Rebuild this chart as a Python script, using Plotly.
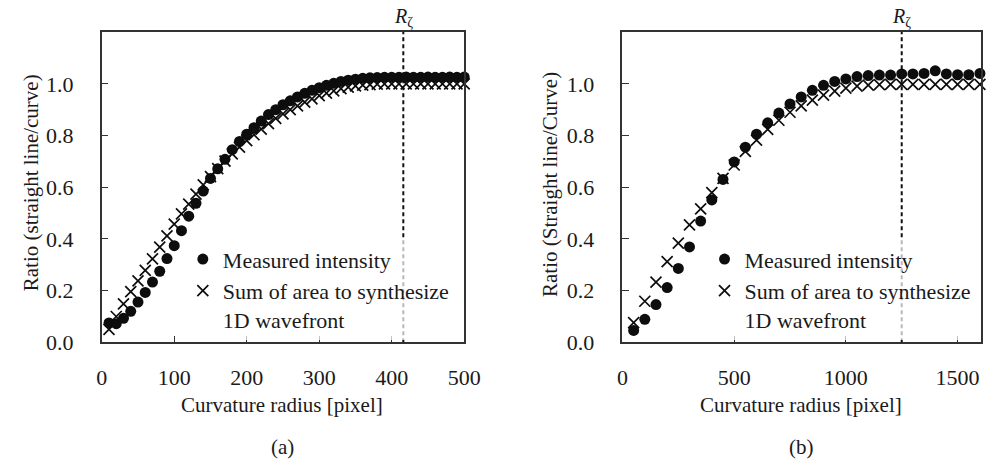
import plotly.graph_objects as go

# ---------------- data ----------------
radius_a = [10, 20, 30, 40, 50, 60, 70, 80, 90, 100,
            110, 120, 130, 140, 150, 160, 170, 180, 190, 200,
            210, 220, 230, 240, 250, 260, 270, 280, 290, 300,
            310, 320, 330, 340, 350, 360, 370, 380, 390, 400,
            410, 420, 430, 440, 450, 460, 470, 480, 490, 500]
measured_a = [0.075, 0.072, 0.093, 0.120, 0.156, 0.193, 0.233, 0.275, 0.324, 0.374,
              0.432, 0.488, 0.538, 0.585, 0.634, 0.671, 0.708, 0.745, 0.777, 0.805,
              0.830, 0.856, 0.881, 0.900, 0.919, 0.934, 0.949, 0.963, 0.975, 0.985,
              0.994, 1.002, 1.009, 1.014, 1.018, 1.021, 1.023, 1.024, 1.025, 1.025,
              1.025, 1.026, 1.025, 1.025, 1.026, 1.025, 1.025, 1.026, 1.025, 1.026]
synth_a = [0.050, 0.100, 0.149, 0.196, 0.238, 0.278, 0.323, 0.368, 0.412, 0.457,
           0.497, 0.535, 0.573, 0.609, 0.641, 0.672, 0.701, 0.729, 0.755, 0.780,
           0.803, 0.825, 0.846, 0.866, 0.884, 0.900, 0.915, 0.929, 0.942, 0.954,
           0.964, 0.973, 0.981, 0.987, 0.992, 0.995, 0.997, 0.999, 1.000, 1.000,
           1.000, 1.000, 1.000, 1.000, 1.000, 1.000, 1.000, 1.000, 1.000, 1.000]

radius_b = [50, 100, 150, 200, 250, 300, 350, 400, 450, 500,
            550, 600, 650, 700, 750, 800, 850, 900, 950, 1000,
            1050, 1100, 1150, 1200, 1250, 1300, 1350, 1400, 1450, 1500,
            1550, 1600]
measured_b = [0.046, 0.089, 0.146, 0.212, 0.286, 0.369, 0.469, 0.551, 0.630, 0.698,
              0.755, 0.805, 0.849, 0.887, 0.922, 0.949, 0.975, 0.994, 1.009, 1.019,
              1.028, 1.032, 1.034, 1.034, 1.038, 1.038, 1.040, 1.050, 1.038, 1.035,
              1.035, 1.040]
synth_b = [0.076, 0.159, 0.233, 0.312, 0.384, 0.454, 0.516, 0.579, 0.634, 0.686,
           0.739, 0.782, 0.824, 0.859, 0.890, 0.915, 0.937, 0.956, 0.972, 0.983,
           0.991, 0.995, 0.997, 0.998, 0.998, 0.998, 0.998, 0.998, 0.998, 0.998,
           0.998, 0.998]

rzeta_a = 416
rzeta_b = 1250

xticks_a = [0, 100, 200, 300, 400, 500]
xticks_b = [0, 500, 1000, 1500]
yticks = [0.0, 0.2, 0.4, 0.6, 0.8, 1.0]
ytick_text = ["0.0", "0.2", "0.4", "0.6", "0.8", "1.0"]

name_measured = "Measured intensity"
name_synth = "Sum of area to synthesize<br>1D wavefront"
xtitle = "Curvature radius [pixel]"
ytitle_a = "Ratio (straight line/curve)"
ytitle_b = "Ratio (Straight line/Curve)"

# ---------------- styling ----------------
W, H = 999, 474
FONT = "Liberation Serif, Times New Roman, serif"
TXT = "#1a1a1a"
AX = "#333333"
DOT = "#0d0d0d"


def px_x(p):
    return p / W


def px_y(p):
    return 1 - p / H


fig = go.Figure()

for (xs, ym, ys, xa, ya, leg) in [
    (radius_a, measured_a, synth_a, "x", "y", "legend"),
    (radius_b, measured_b, synth_b, "x2", "y2", "legend2"),
]:
    fig.add_trace(go.Scatter(
        x=xs, y=ys, mode="markers", name=name_synth, xaxis=xa, yaxis=ya,
        legend=leg, legendrank=2, cliponaxis=False,
        marker=dict(symbol="x-thin", size=11, line=dict(width=1.7, color=DOT), color=DOT)))
    fig.add_trace(go.Scatter(
        x=xs, y=ym, mode="markers", name=name_measured, xaxis=xa, yaxis=ya,
        legend=leg, legendrank=1, cliponaxis=False,
        marker=dict(symbol="circle", size=11, color=DOT, line=dict(width=0))))

axis_common = dict(showline=True, mirror=True, linecolor=AX, linewidth=1.5,
                   ticks="inside", ticklen=7, tickwidth=1.3, tickcolor=AX,
                   showgrid=False, zeroline=False,
                   tickfont=dict(family=FONT, size=22, color=TXT))

ydom = [px_y(352), px_y(33)]
fig.update_layout(
    width=W, height=H, margin=dict(l=0, r=0, t=0, b=0),
    paper_bgcolor="white", plot_bgcolor="white",
    showlegend=True,
    xaxis=dict(domain=[px_x(98), px_x(469)], range=[0, 500], tickvals=xticks_a,
               anchor="y", ticklabelstandoff=15, **axis_common),
    yaxis=dict(domain=ydom, range=[0, 1.2], tickvals=yticks, ticktext=ytick_text,
               anchor="x", ticklabelstandoff=22, **axis_common),
    xaxis2=dict(domain=[px_x(631), px_x(998)], range=[0, 1605], tickvals=xticks_b,
                anchor="y2", ticklabelstandoff=15, **axis_common),
    yaxis2=dict(domain=ydom, range=[0, 1.2], tickvals=yticks, ticktext=ytick_text,
                anchor="x2", ticklabelstandoff=22, **axis_common),
    legend=dict(x=px_x(181), y=px_y(245), xanchor="left", yanchor="top",
                bgcolor="rgba(255,255,255,0.7)", valign="top",
                font=dict(family=FONT, size=22, color=TXT), tracegroupgap=0),
    legend2=dict(x=px_x(715), y=px_y(245), xanchor="left", yanchor="top",
                 bgcolor="rgba(255,255,255,0.7)", valign="top",
                 font=dict(family=FONT, size=22, color=TXT), tracegroupgap=0),
)

# vertical dashed R_zeta lines
for rz, xr, yr in [(rzeta_a, "x", "y domain"), (rzeta_b, "x2", "y2 domain")]:
    fig.add_shape(type="line", x0=rz, x1=rz, y0=0, y1=1, xref=xr, yref=yr,
                  line=dict(color="#111111", width=2, dash="4px,3px"), layer="above")
    fig.add_annotation(x=rz, xref=xr, y=px_y(18), yref="paper",
                       text="<i>R</i><sub>ζ</sub>", showarrow=False,
                       xanchor="center", yanchor="middle",
                       font=dict(family=FONT, size=20, color=TXT))

# axis titles and panel labels
for cx, lab in [(283, "(a)"), (814, "(b)")]:
    fig.add_annotation(x=px_x(cx), y=px_y(416), xref="paper", yref="paper",
                       text=xtitle, showarrow=False, xanchor="center", yanchor="middle",
                       font=dict(family=FONT, size=21, color=TXT))
    fig.add_annotation(x=px_x(cx), y=px_y(460), xref="paper", yref="paper",
                       text=lab, showarrow=False, xanchor="center", yanchor="middle",
                       font=dict(family=FONT, size=21, color=TXT))

for cx, cy, t in [(25, 188, ytitle_a), (557, 190, ytitle_b)]:
    fig.add_annotation(x=px_x(cx), y=px_y(cy), xref="paper", yref="paper",
                       text=t, showarrow=False, textangle=-90,
                       xanchor="center", yanchor="middle",
                       font=dict(family=FONT, size=21, color=TXT))

fig.write_html("out.html",
               config={"displayModeBar": False},
               post_script="document.body.style.margin='0';"
                           "document.body.style.overflow='hidden';")
